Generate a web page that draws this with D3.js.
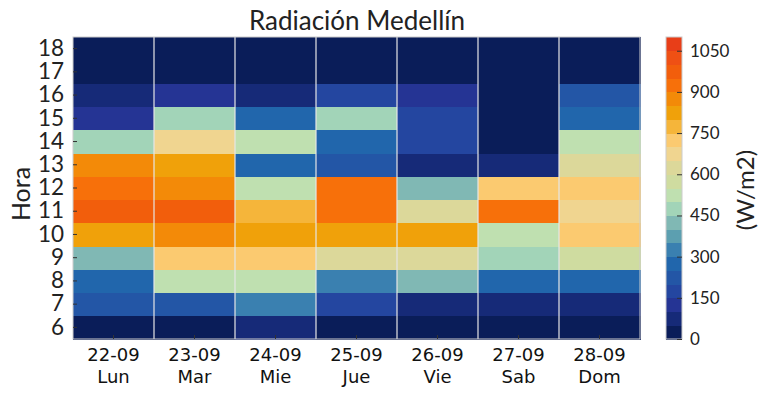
<!DOCTYPE html>
<html>
<head>
<meta charset="utf-8">
<script src="https://cdn.jsdelivr.net/npm/d3@7"></script>
<style>
  body { margin: 0; background: #fff; }
  svg { display: block; }
</style>
</head>
<body>
<svg id="chart" width="767" height="395"></svg>
<script>
// ---- data ----
const dates = ["22-09", "23-09", "24-09", "25-09", "26-09", "27-09", "28-09"];
const weekdays = ["Lun", "Mar", "Mie", "Jue", "Vie", "Sab", "Dom"];
const hours = [6, 7, 8, 9, 10, 11, 12, 13, 14, 15, 16, 17, 18];
// radiation (W/m2) per hour 6..18
const day22 = [25, 225, 275, 425, 825, 980, 925, 875, 475, 125, 75, 0, 0];
const day23 = [25, 225, 525, 725, 875, 980, 875, 825, 675, 475, 125, 0, 0];
const day24 = [75, 325, 525, 725, 825, 775, 525, 275, 525, 275, 75, 0, 0];
const day25 = [25, 175, 325, 625, 825, 925, 925, 225, 275, 475, 175, 0, 0];
const day26 = [25, 75, 425, 625, 825, 625, 425, 75, 175, 175, 125, 0, 0];
const day27 = [25, 75, 275, 475, 525, 925, 725, 75, 0, 0, 0, 0, 0];
const day28 = [25, 75, 275, 575, 725, 675, 725, 625, 525, 275, 225, 0, 0];
const colorbarTicks = [0, 150, 300, 450, 600, 750, 900, 1050];
const binColors = [
  "#0a1d59", "#162a78", "#253494", "#2446a0", "#2356a6", "#2166ac",
  "#3a80b0", "#5c9fb0", "#80b8b4", "#a2d4b8", "#bfe0b0", "#cfdca0",
  "#dcd89a", "#f0d590", "#fbca70", "#f5b53a", "#f0a10a", "#f38a08",
  "#f7700a", "#f25e0c", "#ef5014", "#e83e18"
];

const series = [day22, day23, day24, day25, day26, day27, day28];
const cells = [];
series.forEach((vals, di) => vals.forEach((v, hi) => cells.push({ day: dates[di], hour: hours[hi], value: v })));

// ---- layout ----
const svg = d3.select("#chart");
const L = 73, R = 640, T = 37, B = 339;

const x = d3.scaleBand().domain(dates).range([L, R]);
const y = d3.scaleBand().domain(hours.slice().reverse()).range([T, B]);
const color = d3.scaleQuantize().domain([0, 1100]).range(binColors);

// cells
svg.append("g").selectAll("rect").data(cells).join("rect")
  .attr("x", d => x(d.day))
  .attr("y", d => y(d.hour))
  .attr("width", x.bandwidth() + 0.5)
  .attr("height", y.bandwidth() + 0.5)
  .attr("fill", d => color(d.value))
  .attr("shape-rendering", "crispEdges");

// vertical separators
svg.append("g").selectAll("line").data(dates.slice(1)).join("line")
  .attr("x1", d => x(d)).attr("x2", d => x(d))
  .attr("y1", T).attr("y2", B)
  .attr("stroke", "#e6e6e6").attr("stroke-width", 1.2);

// frame
svg.append("rect").attr("x", L).attr("y", T).attr("width", R - L).attr("height", B - T)
  .attr("fill", "none").attr("stroke", "#cccccc").attr("stroke-width", 1);

// y axis
const yAxis = d3.axisLeft(y).tickSize(-4).tickPadding(9);
const gy = svg.append("g").attr("transform", `translate(${L},0)`).call(yAxis);
gy.select(".domain").remove();
gy.selectAll(".tick line").attr("stroke", "#333");
gy.selectAll(".tick text").attr("font-family", "Lato, sans-serif").attr("font-size", 22.5).attr("fill", "#222");

// x axis
const xAxis = d3.axisBottom(x).tickSize(-4).tickFormat(() => "");
const gx = svg.append("g").attr("transform", `translate(0,${B})`).call(xAxis);
gx.select(".domain").remove();
gx.selectAll(".tick line").attr("stroke", "#333");
const xl = svg.append("g").selectAll("text").data(dates).join("text")
  .attr("text-anchor", "middle")
  .attr("font-family", "DejaVu Sans, sans-serif").attr("font-size", 18).attr("fill", "#111");
xl.append("tspan").attr("x", d => x(d) + x.bandwidth() / 2).attr("y", 361).text(d => d);
xl.append("tspan").attr("x", d => x(d) + x.bandwidth() / 2).attr("y", 383).text((d, i) => weekdays[i]);

// y label
svg.append("text").attr("transform", "translate(30,194) rotate(-90)")
  .attr("text-anchor", "middle").attr("font-family", "Lato, sans-serif").attr("font-size", 25).attr("fill", "#222")
  .text("Hora");

// title
svg.append("text").attr("x", 357).attr("y", 30).attr("text-anchor", "middle")
  .attr("font-family", "Lato, sans-serif").attr("font-size", 26).attr("fill", "#222")
  .text("Radiación Medellín");

// colorbar
const cbL = 666, cbW = 16;
const cy = d3.scaleLinear().domain([0, 1100]).range([B, T]);
const bins = binColors.map((c, i) => ({ lo: i * 50, hi: (i + 1) * 50, c }));
svg.append("g").selectAll("rect").data(bins).join("rect")
  .attr("x", cbL).attr("width", cbW)
  .attr("y", d => cy(d.hi)).attr("height", d => cy(d.lo) - cy(d.hi) + 0.5)
  .attr("fill", d => d.c).attr("shape-rendering", "crispEdges");
svg.append("rect").attr("x", cbL).attr("y", T).attr("width", cbW).attr("height", B - T)
  .attr("fill", "none").attr("stroke", "#cccccc");
const cAxis = d3.axisRight(cy).tickValues(colorbarTicks).tickFormat(d3.format("d")).tickSize(-5).tickPadding(8);
const gc = svg.append("g").attr("transform", `translate(${cbL + cbW},0)`).call(cAxis);
gc.select(".domain").remove();
gc.selectAll(".tick line").attr("stroke", "#333");
gc.selectAll(".tick text").attr("font-family", "Lato, sans-serif").attr("font-size", 17).attr("fill", "#222");

svg.append("text").attr("transform", "translate(754,190) rotate(-90)")
  .attr("text-anchor", "middle").attr("font-family", "Lato, sans-serif").attr("font-size", 24).attr("fill", "#222")
  .text("(W/m2)");
</script>
</body>
</html>
